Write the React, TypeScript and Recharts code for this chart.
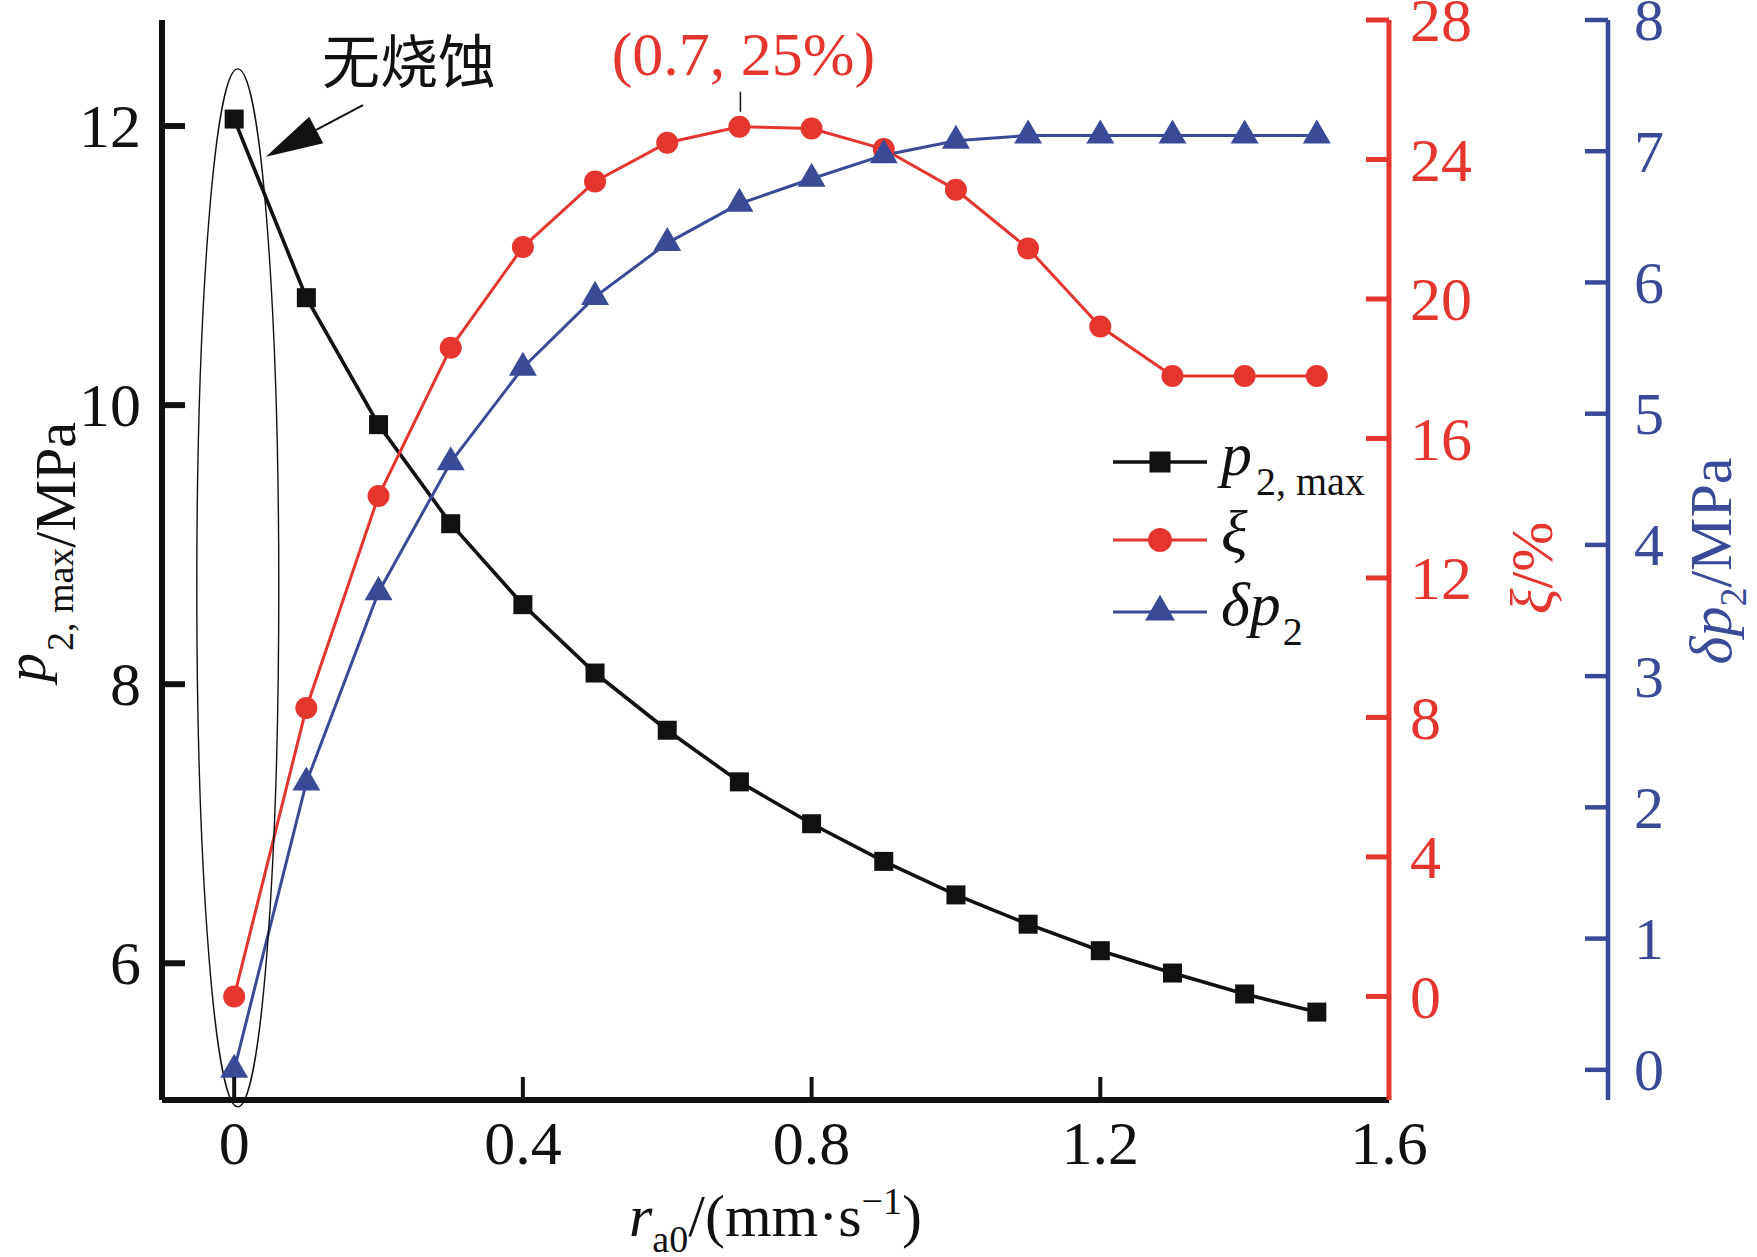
import React from 'react';
import { ComposedChart, Line, XAxis, YAxis, Legend, ReferenceDot } from 'recharts';

// burning rate r_a0 (mm/s)
const burnRate = [0, 0.1, 0.2, 0.3, 0.4, 0.5, 0.6, 0.7, 0.8, 0.9, 1.0, 1.1, 1.2, 1.3, 1.4, 1.5];
// p2,max (MPa), left axis
const p2Max = [12.05, 10.77, 9.86, 9.15, 8.57, 8.08, 7.67, 7.3, 7.0, 6.73, 6.49, 6.28, 6.09, 5.93, 5.78, 5.65];
// ξ (%), red axis
const xiPct = [0, 8.27, 14.35, 18.6, 21.49, 23.37, 24.48, 24.94, 24.89, 24.3, 23.13, 21.45, 19.21, 17.79, 17.79, 17.79];
// δp2 (MPa), blue axis
const deltaP2 = [0, 2.19, 3.64, 4.63, 5.35, 5.89, 6.3, 6.6, 6.79, 6.97, 7.08, 7.12, 7.12, 7.12, 7.12, 7.12];

const xTicks = [0, 0.4, 0.8, 1.2, 1.6];
const pTicks = [6, 8, 10, 12];
const xiTicks = [0, 4, 8, 12, 16, 20, 24, 28];
const dpTicks = [0, 1, 2, 3, 4, 5, 6, 7, 8];

const peakLabel = '(0.7, 25%)';
const ablationLabel = '无烧蚀';

const BLACK = '#111111';
const RED = '#E5352F';
const BLUE = '#3B4A97';
const SERIF = '"Liberation Serif", "Times New Roman", serif';
const CJK = '"Noto Sans CJK SC", sans-serif';

const rows = burnRate.map((r, i) => ({ rate: r, p2Max: p2Max[i], xi: xiPct[i], deltaP2: deltaP2[i] }));
const peakIndex = xiPct.indexOf(Math.max(...xiPct));

const TICK_LEN = 23;

const Marker = ({ kind, cx, cy, color, size }: any) => {
  if (kind === 'square') {
    return <rect x={cx - size / 2} y={cy - size / 2} width={size} height={size} fill={color} />;
  }
  if (kind === 'circle') {
    return <circle cx={cx} cy={cy} r={size / 2} fill={color} />;
  }
  const h = size * 0.86;
  return (
    <polygon
      points={`${cx},${cy - (2 * h) / 3} ${cx - size / 2},${cy + h / 3} ${cx + size / 2},${cy + h / 3}`}
      fill={color}
    />
  );
};

// ids: right1 = ξ axis next to the plot, right2 = δp2 axis outside it
const SERIES = [
  { key: 'p2Max', axis: 'left', color: BLACK, marker: 'square', size: 19, width: 3.6, name: 'p2,max' },
  { key: 'xi', axis: 'right1', color: RED, marker: 'circle', size: 22, width: 3, name: 'ξ' },
  { key: 'deltaP2', axis: 'right2', color: BLUE, marker: 'triangle', size: 28, width: 3, name: 'δp2' },
];

const leftTick = (props: any) => {
  const { x, y, payload } = props;
  const ax = x + 21;
  return (
    <g>
      <line x1={ax} x2={ax + TICK_LEN} y1={y} y2={y} stroke={BLACK} strokeWidth={6} />
      <text x={x} y={y} dy="0.34em" textAnchor="end" fontFamily={SERIF} fontSize={62} fill={BLACK}>
        {payload.value}
      </text>
    </g>
  );
};

const rightTick = (color: string, margin: number, fontSize: number, sw: number) => (props: any) => {
  const { x, y, payload } = props;
  const ax = x - margin;
  return (
    <g>
      <line x1={ax} x2={ax - TICK_LEN} y1={y} y2={y} stroke={color} strokeWidth={sw} />
      <text x={x} y={y} dy="0.34em" textAnchor="start" fontFamily={SERIF} fontSize={fontSize} fill={color}>
        {payload.value}
      </text>
    </g>
  );
};

const bottomTick = (props: any) => {
  const { x, y, payload } = props;
  const ay = y - 20;
  return (
    <g>
      {payload.value < 1.6 && (
        <line x1={x} x2={x} y1={ay} y2={ay - TICK_LEN} stroke={BLACK} strokeWidth={4} />
      )}
      <text x={x} y={y} dy="0.71em" textAnchor="middle" fontFamily={SERIF} fontSize={62} fill={BLACK}>
        {String(payload.value)}
      </text>
    </g>
  );
};

const LeftLabel = ({ viewBox }: any) => {
  const cx = viewBox.x + 75;
  const cy = 552;
  return (
    <text x={cx} y={cy} transform={`rotate(-90 ${cx} ${cy})`} textAnchor="middle" fontFamily={SERIF} fontSize={58} fill={BLACK}>
      <tspan fontStyle="italic" dy={-30}>p</tspan>
      <tspan fontSize={38} dx={2} dy={28}>2, max</tspan>
      <tspan dy={2}>/MPa</tspan>
    </text>
  );
};

const XiLabel = ({ viewBox }: any) => {
  const cx = viewBox.x + 163;
  const cy = 568;
  return (
    <text x={cx} y={cy} transform={`rotate(-90 ${cx} ${cy})`} textAnchor="middle" fontFamily={SERIF} fontSize={60} fill={RED}>
      <tspan fontStyle="italic">ξ</tspan>
      <tspan>/%</tspan>
    </text>
  );
};

const DpLabel = ({ viewBox }: any) => {
  const cx = viewBox.x + 123;
  const cy = 561;
  return (
    <text x={cx} y={cy} transform={`rotate(-90 ${cx} ${cy})`} textAnchor="middle" fontFamily={SERIF} fontSize={60} fill={BLUE}>
      <tspan fontStyle="italic">δp</tspan>
      <tspan fontSize={38} dy={15}>2</tspan>
      <tspan dy={-15}>/MPa</tspan>
    </text>
  );
};

const XLabel = ({ viewBox }: any) => {
  const cx = viewBox.x + viewBox.width / 2;
  const cy = viewBox.y + 136;
  return (
    <text x={cx} y={cy} textAnchor="middle" fontFamily={SERIF} fontSize={60} fill={BLACK}>
      <tspan fontStyle="italic">r</tspan>
      <tspan fontSize={38} dy={16}>a0</tspan>
      <tspan dy={-16}>/(mm·s</tspan>
      <tspan fontSize={38} dy={-22}>−1</tspan>
      <tspan dy={22}>)</tspan>
    </text>
  );
};

const legendText = (key: string) => {
  if (key === 'p2Max') {
    return (
      <>
        <tspan fontStyle="italic">p</tspan>
        <tspan fontSize={40} dx={4} dy={20}>2, max</tspan>
      </>
    );
  }
  if (key === 'xi') return <tspan fontStyle="italic">ξ</tspan>;
  return (
    <>
      <tspan fontStyle="italic">δp</tspan>
      <tspan fontSize={40} dx={2} dy={20}>2</tspan>
    </>
  );
};

const legendRowY = [42, 120, 192];

const renderLegend = () => (
  <svg width={330} height={240} style={{ display: 'block', overflow: 'visible' }}>
    {SERIES.map((s, i) => {
      const y = legendRowY[i];
      return (
        <g key={s.key}>
          <line x1={8} x2={102} y1={y} y2={y} stroke={s.color} strokeWidth={s.width} />
          <Marker kind={s.marker} cx={55} cy={y} color={s.color} size={s.size + 2} />
          <text x={116} y={y + 13} fontFamily={SERIF} fontSize={62} fill={BLACK}>
            {legendText(s.key)}
          </text>
        </g>
      );
    })}
  </svg>
);

const EllipseShape = (props: any) => (
  <ellipse cx={props.cx} cy={props.cy} rx={41} ry={519} fill="none" stroke={BLACK} strokeWidth={1.4} />
);

const ArrowShape = (props: any) => {
  const { cx, cy } = props;
  const ux = 0.882;
  const uy = -0.47;
  const head = 57;
  const half = 15;
  const len = 110;
  const bx = cx + ux * head;
  const by = cy + uy * head;
  const px = -uy;
  const py = ux;
  return (
    <g>
      <line x1={bx} y1={by} x2={cx + ux * len} y2={cy + uy * len} stroke={BLACK} strokeWidth={2} />
      <polygon points={`${cx},${cy} ${bx + px * half},${by + py * half} ${bx - px * half},${by - py * half}`} fill={BLACK} />
      <text x={cx + 143} y={cy - 74} textAnchor="middle" fontFamily={CJK} fontSize={58} fill={BLACK}>
        {ablationLabel}
      </text>
    </g>
  );
};

const PeakShape = (props: any) => {
  const { cx, cy } = props;
  return (
    <g>
      <line x1={cx + 1} x2={cx + 1} y1={cy - 35} y2={cy - 15} stroke={BLACK} strokeWidth={1.5} />
      <text x={cx + 4} y={cy - 52} textAnchor="middle" fontFamily={SERIF} fontSize={62} fill={RED}>
        {peakLabel}
      </text>
    </g>
  );
};

export default function App() {
  return (
    <div style={{ position: 'absolute', left: 0, top: 0, width: 1757, height: 1257, background: '#fff' }}>
      <ComposedChart width={1757} height={1257} data={rows} margin={{ top: 20, right: 0, bottom: 0, left: 0 }}>
        <XAxis
          xAxisId="top"
          orientation="top"
          type="number"
          dataKey="rate"
          domain={[-0.1, 1.6]}
          allowDataOverflow
          height={0}
          tick={false}
          tickLine={false}
          axisLine={{ stroke: BLACK, strokeWidth: 6 }}
        />
        <XAxis
          xAxisId="x"
          type="number"
          dataKey="rate"
          domain={[-0.1, 1.6]}
          allowDataOverflow
          ticks={xTicks}
          interval={0}
          height={157}
          tickSize={0}
          tickMargin={20}
          tickLine={false}
          tick={bottomTick}
          axisLine={{ stroke: BLACK, strokeWidth: 6 }}
          label={{ content: XLabel }}
        />
        <YAxis
          yAxisId="left"
          type="number"
          domain={[5.02, 12.76]}
          allowDataOverflow
          ticks={pTicks}
          interval={0}
          width={162}
          tickSize={0}
          tickMargin={21}
          tickLine={false}
          tick={leftTick}
          axisLine={{ stroke: BLACK, strokeWidth: 6 }}
          label={{ content: LeftLabel }}
        />
        <YAxis
          yAxisId="right2"
          orientation="right"
          type="number"
          domain={[-0.23, 8]}
          allowDataOverflow
          ticks={dpTicks}
          interval={0}
          width={149}
          tickSize={0}
          tickMargin={26}
          tickLine={false}
          tick={rightTick(BLUE, 26, 60, 4.5)}
          axisLine={{ stroke: BLUE, strokeWidth: 4.5 }}
          label={{ content: DpLabel }}
        />
        <YAxis
          yAxisId="right1"
          orientation="right"
          type="number"
          domain={[-2.97, 28]}
          allowDataOverflow
          ticks={xiTicks}
          interval={0}
          width={219}
          tickSize={0}
          tickMargin={21}
          tickLine={false}
          tick={rightTick(RED, 21, 62, 5)}
          axisLine={{ stroke: RED, strokeWidth: 5 }}
          label={{ content: XiLabel }}
        />
        {SERIES.map((s) => (
          <Line
            key={s.key}
            type="linear"
            dataKey={s.key}
            name={s.name}
            xAxisId="x"
            yAxisId={s.axis}
            stroke={s.color}
            strokeWidth={s.width}
            isAnimationActive={false}
            activeDot={false}
            dot={(p: any) => (
              <Marker key={`${s.key}-${p.index}`} kind={s.marker} cx={p.cx} cy={p.cy} color={s.color} size={s.size} />
            )}
          />
        ))}
        <ReferenceDot xAxisId="x" yAxisId="left" x={0.005} y={8.69} ifOverflow="visible" shape={EllipseShape} />
        <ReferenceDot xAxisId="x" yAxisId="left" x={0.044} y={11.78} ifOverflow="visible" shape={ArrowShape} />
        <ReferenceDot
          xAxisId="x"
          yAxisId="right1"
          x={burnRate[peakIndex]}
          y={xiPct[peakIndex]}
          ifOverflow="visible"
          shape={PeakShape}
        />
        <Legend
          layout="vertical"
          align="center"
          verticalAlign="middle"
          content={renderLegend}
          wrapperStyle={{ left: 1105, top: 420, width: 330 }}
        />
      </ComposedChart>
    </div>
  );
}
